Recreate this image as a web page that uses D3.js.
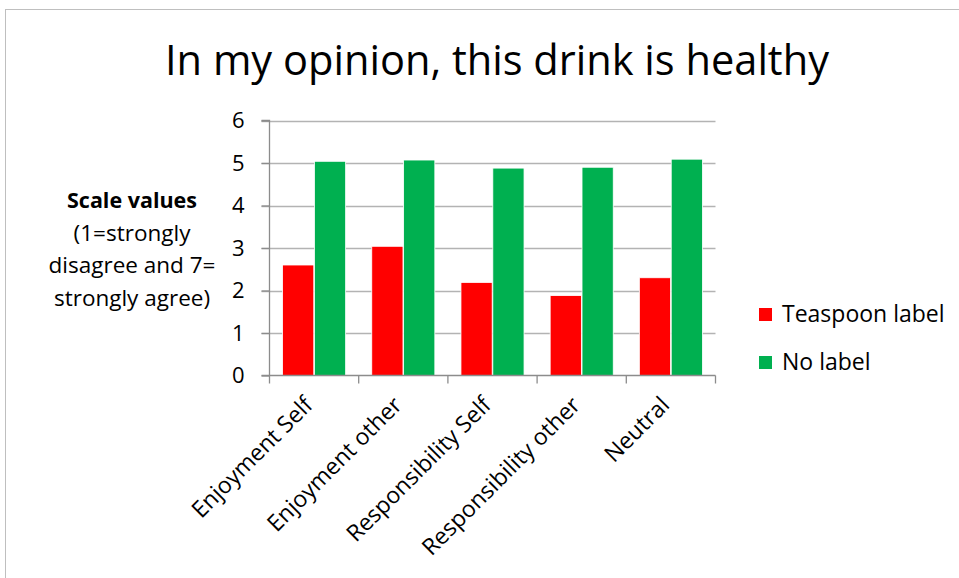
<!DOCTYPE html>
<html><head><meta charset="utf-8">
<script src="https://cdn.jsdelivr.net/npm/d3@7"></script>
<style>
html,body{margin:0;padding:0;background:#fff;}
svg{display:block;font-family:"Open Sans",Lato,sans-serif;}
svg text{font-family:"Open Sans",Lato,sans-serif;}
</style></head>
<body><svg id="c" width="959" height="578"></svg>
<script>
const categories = ["Enjoyment Self","Enjoyment other","Responsibility Self","Responsibility other","Neutral"];
const seriesNames = ["Teaspoon label","No label"];
const teaspoonValues = [2.6, 3.04, 2.19, 1.88, 2.3];
const noLabelValues = [5.04, 5.07, 4.88, 4.9, 5.09];
const yTicks = [0,1,2,3,4,5,6];
const colors = ["#FF0000","#00B050"];
const titleText = "In my opinion, this drink is healthy";
const yTitleLines = ["Scale values","(1=strongly","disagree and 7=","strongly agree)"];

const svg = d3.select("#c");
// outer frame
svg.append("rect").attr("x",5.5).attr("y",9.5).attr("width",960).attr("height",600)
  .attr("fill","#fff").attr("stroke","#bfbfbf").attr("stroke-width",1);

const L=269.5, R=715.5, T=120.5, B=375.5;
const x = d3.scaleBand().domain(categories).range([L,R]).paddingInner(0).paddingOuter(0);
const x1 = d3.scaleBand().domain(seriesNames).range([0,x.bandwidth()]).paddingInner(0.02).paddingOuter(0.41);
const y = d3.scaleLinear().domain([0,6]).range([B,T]);

// gridlines
svg.append("g").selectAll("line").data(yTicks.filter(d=>d>0)).join("line")
  .attr("x1",L-8).attr("x2",R).attr("y1",d=>Math.round(y(d))+0.5).attr("y2",d=>Math.round(y(d))+0.5)
  .attr("stroke","#b3b3b3").attr("stroke-width",1.3);

// bars
const data = categories.map((c,i)=>({c, vals:[teaspoonValues[i], noLabelValues[i]]}));
const gBars = svg.append("g");
data.forEach(d=>{
  d.vals.forEach((v,j)=>{
    gBars.append("rect")
      .attr("x", x(d.c)+x1(seriesNames[j]))
      .attr("y", y(v))
      .attr("width", x1.bandwidth())
      .attr("height", y(0)-y(v))
      .attr("fill", colors[j])
      .attr("stroke","#fff").attr("stroke-width",0.8);
  });
});

// y axis
const yAxis = d3.axisLeft(y).tickValues(yTicks).tickSize(8).tickPadding(17).tickFormat(d3.format("d"));
const gy = svg.append("g").attr("transform",`translate(${L},0)`).call(yAxis)
  .attr("font-family",null).attr("font-size",null);
gy.select(".domain").attr("stroke","#8c8c8c").attr("stroke-width",1.3).attr("d",`M-8,${T}H0V${B}`);
gy.selectAll(".tick line").attr("stroke","#8c8c8c").attr("stroke-width",1.3);
gy.selectAll(".tick text").attr("font-size",22).attr("fill","#000");

// x axis
const xAxis = d3.axisBottom(x).tickSize(0).tickFormat("");
const gx = svg.append("g").attr("transform",`translate(0,${B})`).call(xAxis)
  .attr("font-family",null).attr("font-size",null);
gx.select(".domain").attr("stroke","#8c8c8c").attr("stroke-width",1.3).attr("d",`M${L-8},0H${R}`);
const bounds = categories.map(c=>x(c)).concat([R]);
gx.append("g").selectAll("line").data(bounds).join("line")
  .attr("x1",d=>d).attr("x2",d=>d).attr("y1",0).attr("y2",8)
  .attr("stroke","#8c8c8c").attr("stroke-width",1.3);
gx.append("g").selectAll("text").data(categories).join("text")
  .attr("transform",d=>`translate(${x(d)+x.bandwidth()/2},${31}) rotate(-45)`)
  .attr("text-anchor","end")
  .attr("font-size",23).attr("fill","#000").text(d=>d);

// title
svg.append("text").attr("x",497).attr("y",75).attr("text-anchor","middle")
  .attr("font-size",42).attr("fill","#000")
  .attr("textLength",664).attr("lengthAdjust","spacingAndGlyphs").text(titleText);

// y title
svg.append("g").selectAll("text").data(yTitleLines).join("text")
  .attr("x",132).attr("y",(d,i)=>208+i*32.7).attr("text-anchor","middle")
  .attr("font-size",(d,i)=>i===0?21.5:22.5).attr("font-weight",(d,i)=>i===0?"bold":"normal").attr("fill","#000").text(d=>d);

// legend
const lg = svg.append("g").selectAll("g").data(seriesNames).join("g")
  .attr("transform",(d,i)=>`translate(759,${308+i*48})`);
lg.append("rect").attr("width",13).attr("height",13).attr("fill",(d,i)=>colors[i]);
lg.append("text").attr("x",23).attr("y",14).attr("font-size",23).attr("fill","#000").text(d=>d);
</script></body></html>
